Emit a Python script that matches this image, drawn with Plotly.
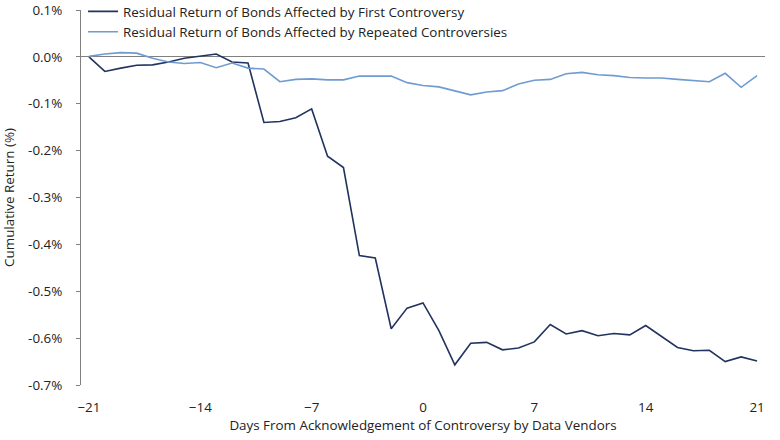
import plotly.graph_objects as go

days = list(range(-21, 22))

first_controversy = [
    0.000, -0.031, -0.024, -0.018, -0.017, -0.011, -0.003, 0.001, 0.006, -0.011,
    -0.013, -0.140, -0.138, -0.130, -0.111, -0.212, -0.236, -0.424, -0.429, -0.580,
    -0.536, -0.525, -0.584, -0.657, -0.611, -0.609, -0.625, -0.621, -0.608, -0.571,
    -0.591, -0.584, -0.595, -0.590, -0.593, -0.573, -0.596, -0.620, -0.627, -0.626,
    -0.650, -0.640, -0.649,
]

repeated_controversies = [
    0.001, 0.006, 0.009, 0.008, -0.003, -0.011, -0.014, -0.012, -0.023, -0.013,
    -0.024, -0.026, -0.053, -0.048, -0.047, -0.049, -0.049, -0.041, -0.041, -0.041,
    -0.055, -0.061, -0.064, -0.073, -0.081, -0.075, -0.072, -0.058, -0.050, -0.048,
    -0.036, -0.033, -0.038, -0.040, -0.044, -0.045, -0.045, -0.048, -0.050, -0.053,
    -0.035, -0.065, -0.040,
]

x_ticks = [-21, -14, -7, 0, 7, 14, 21]
y_ticks = [0.1, 0.0, -0.1, -0.2, -0.3, -0.4, -0.5, -0.6, -0.7]
y_labels = [f"{v:.1f}%" for v in y_ticks]

fig = go.Figure()
fig.add_trace(go.Scatter(
    x=days, y=first_controversy, mode="lines",
    name="Residual Return of Bonds Affected by First Controversy",
    line=dict(color="#23335f", width=1.6),
))
fig.add_trace(go.Scatter(
    x=days, y=repeated_controversies, mode="lines",
    name="Residual Return of Bonds Affected by Repeated Controversies",
    line=dict(color="#6f9bd1", width=1.6),
))

fig.update_layout(
    width=780, height=440,
    margin=dict(l=81, r=15, t=10, b=55, autoexpand=False),
    paper_bgcolor="white", plot_bgcolor="white",
    font=dict(family="Open Sans, Lato, sans-serif", size=13.4, color="#222222"),
    showlegend=True,
    legend=dict(x=0.003, y=1.037, xanchor="left", yanchor="top",
                bgcolor="rgba(0,0,0,0)", font=dict(size=13.4),
                tracegroupgap=0, itemwidth=30),
)
fig.update_xaxes(
    range=[-21.5, 21.5], tickvals=x_ticks, showgrid=False, zeroline=False,
    showline=False, ticks="", ticklabelstandoff=13,
    tickfont=dict(size=13.4),
    title=dict(text="Days From Acknowledgement of Controversy by Data Vendors",
               font=dict(size=13.4), standoff=4),
)
fig.update_yaxes(
    range=[-0.7, 0.1], tickvals=y_ticks, ticktext=y_labels, showgrid=False,
    zeroline=True, zerolinecolor="#808080", zerolinewidth=1,
    showline=True, linecolor="#808080", linewidth=1,
    ticks="outside", ticklen=4, tickcolor="#808080",
    ticklabelstandoff=11, tickfont=dict(size=13.4),
    title=dict(text="Cumulative Return (%)", font=dict(size=13.4), standoff=13),
)

# drop the default page margin so the figure fills the window
fig.write_html(
    "out.html",
    config={"displayModeBar": False},
    post_script="document.body.style.margin = '0';",
)
